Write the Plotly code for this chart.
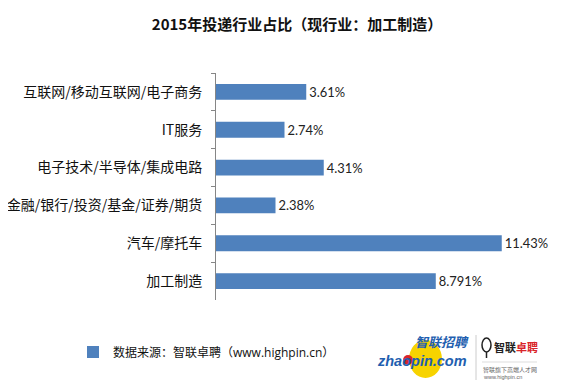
import plotly.graph_objects as go

categories = ["互联网/移动互联网/电子商务", "IT服务", "电子技术/半导体/集成电路",
              "金融/银行/投资/基金/证券/期货", "汽车/摩托车", "加工制造"]
values = [3.61, 2.74, 4.31, 2.38, 11.43, 8.791]
value_labels = ["3.61%", "2.74%", "4.31%", "2.38%", "11.43%", "8.791%"]
series_name = "数据来源：智联卓聘（www.highpin.cn）"
title_text = "2015年投递行业占比（现行业：加工制造）"

OFF = 8  # page body margin offset
W, H = 566, 387
L, T = 216 - OFF, 73 - OFF
PW, PH = 300, 227
R, B = W - L - PW, H - T - PH


def px(x):
    return (x - OFF - L) / PW


def py(y):
    return (T + PH - (y - OFF)) / PH


CJK = "Microsoft YaHei, Noto Sans CJK SC, sans-serif"
NUM = "Lato, Noto Sans CJK SC, sans-serif"
MIX = "Open Sans, Noto Sans CJK SC, sans-serif"

fig = go.Figure()
fig.add_trace(go.Bar(
    x=values, y=categories, orientation="h",
    marker=dict(color="#4F81BD", line=dict(width=0)),
    text=value_labels, textposition="outside", cliponaxis=False,
    textfont=dict(family=NUM, size=13, color="#222222"),
    name=series_name, showlegend=True,
))

shapes = []
annotations = []
# zhaopin logo
shapes.append(dict(type="circle", xref="paper", yref="paper",
                   x0=px(409), x1=px(442), y0=py(378), y1=py(340),
                   fillcolor="#F7D300", line=dict(width=0), layer="below"))
annotations.append(dict(text="<b><i>智联招聘</i></b>", xref="paper", yref="paper",
                        x=px(442), y=py(341.5), xanchor="center", yanchor="middle",
                        showarrow=False, font=dict(family=CJK, size=13, color="#1F5FB0")))
annotations.append(dict(text="<b><i>zhaopin.com</i></b>", xref="paper", yref="paper",
                        x=px(422), y=py(360.5), xanchor="center", yanchor="middle",
                        showarrow=False, font=dict(family="Liberation Sans, Arial", size=14.5, color="#1F5FB0")))
shapes.append(dict(type="circle", xref="paper", yref="paper",
                   x0=px(403), x1=px(413), y0=py(365), y1=py(355),
                   fillcolor="#D9252A", line=dict(width=0)))
# divider
shapes.append(dict(type="line", xref="paper", yref="paper",
                   x0=px(476), x1=px(476), y0=py(335), y1=py(380),
                   line=dict(color="#CCCCCC", width=1)))
# highpin logo
shapes.append(dict(type="circle", xref="paper", yref="paper",
                   x0=px(482), x1=px(491), y0=py(352), y1=py(338),
                   line=dict(color="#222222", width=1.5)))
shapes.append(dict(type="line", xref="paper", yref="paper",
                   x0=px(486.5), x1=px(486.5), y0=py(352), y1=py(358),
                   line=dict(color="#222222", width=1.5)))
annotations.append(dict(text="<b>智联<span style='color:#D9252A'>卓聘</span></b>", xref="paper", yref="paper",
                        x=px(492), y=py(347), xanchor="left", yanchor="middle",
                        showarrow=False, font=dict(family=CJK, size=11, color="#222222")))
shapes.append(dict(type="line", xref="paper", yref="paper",
                   x0=px(482), x1=px(537), y0=py(362), y1=py(362),
                   line=dict(color="#DDDDDD", width=1)))
annotations.append(dict(text="智联旗下高端人才网", xref="paper", yref="paper",
                        x=px(481), y=py(369), xanchor="left", yanchor="middle",
                        showarrow=False, font=dict(family=CJK, size=6, color="#666666")))
annotations.append(dict(text="www.highpin.cn", xref="paper", yref="paper",
                        x=px(481), y=py(377), xanchor="left", yanchor="middle",
                        showarrow=False, font=dict(family="Liberation Sans, Arial", size=5.5, color="#666666")))

fig.update_layout(
    width=W, height=H,
    margin=dict(l=L, r=R, t=T, b=B, pad=0, autoexpand=False),
    paper_bgcolor="white", plot_bgcolor="white",
    title=dict(text="<b>" + title_text + "</b>", x=(297 - OFF) / W, xanchor="center",
               y=1 - (25 - OFF) / H, yanchor="middle",
               font=dict(family=CJK, size=15, color="#111111")),
    bargap=0.58,
    xaxis=dict(range=[0, 12], visible=False, showgrid=False, zeroline=False, automargin=False),
    yaxis=dict(autorange="reversed", showline=True, linecolor="#868686", linewidth=1,
               ticks="outside", tickson="boundaries", ticklen=4, tickcolor="#868686",
               tickfont=dict(family=CJK, size=14, color="#111111"),
               ticklabelstandoff=10, showgrid=False, zeroline=False, automargin=False),
    legend=dict(x=px(73), y=py(352), xanchor="left", yanchor="middle",
                font=dict(family=MIX, size=12, color="#111111"),
                itemwidth=30, bgcolor="rgba(0,0,0,0)"),
    shapes=shapes, annotations=annotations,
)

fig.write_html("out.html")
